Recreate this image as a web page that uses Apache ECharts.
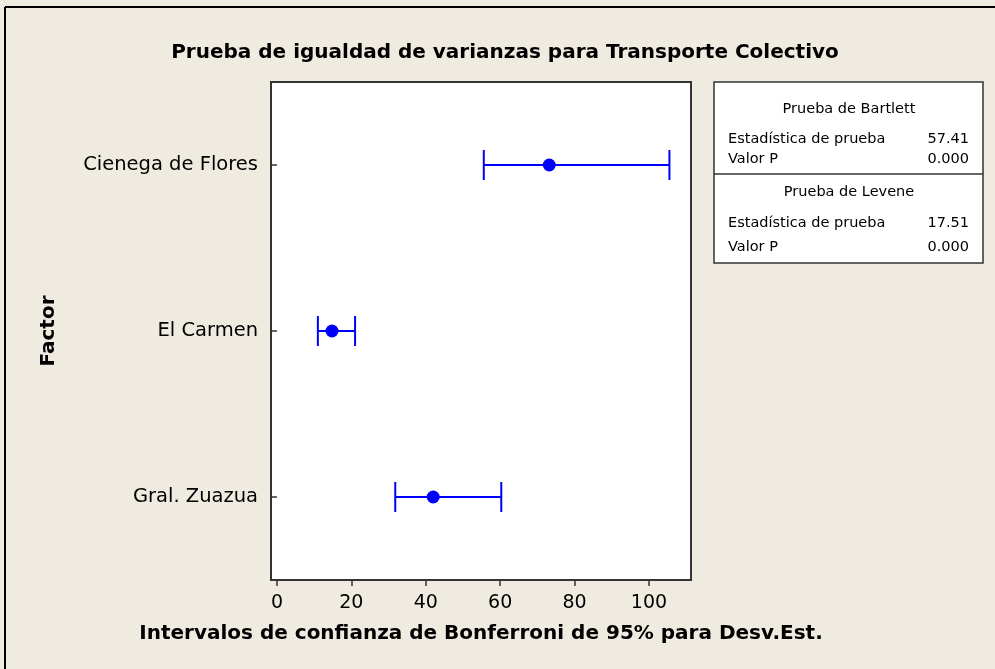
<!DOCTYPE html>
<html>
<head>
<meta charset="utf-8">
<script src="https://cdn.jsdelivr.net/npm/echarts@6/dist/echarts.min.js"></script>
<style>
  html, body { margin: 0; padding: 0; background: #efebe1; }
  #chart { width: 995px; height: 669px; }
</style>
</head>
<body>
<div id="chart"></div>
<script>
// categorias y intervalos de Bonferroni (Desv.Est.)
var factores = ["Cienega de Flores", "El Carmen", "Gral. Zuazua"];
var desvEst = [73.2, 14.8, 42.0];
var limInf = [55.6, 11.0, 31.8];
var limSup = [105.5, 21.0, 60.3];
var ticksX = [0, 20, 40, 60, 80, 100];

// tabla de pruebas
var bartlett = { estadistica: "57.41", p: "0.000" };
var levene = { estadistica: "17.51", p: "0.000" };

var fuente = "DejaVu Sans";
var chart = echarts.init(document.getElementById("chart"));

var intervalos = [];
for (var i = 0; i < factores.length; i++) {
  intervalos.push([limInf[i], limSup[i], i]);
}

var tx = 714, ty = 82, tw = 269, th = 181;
var txt = function (x, y, s, align) {
  return {
    type: "text", x: x, y: y,
    style: { text: s, fill: "#000", font: "14.5px " + fuente, align: align || "left", verticalAlign: "middle" }
  };
};

chart.setOption({
  backgroundColor: "#efebe1",
  animation: false,
  title: {
    text: "Prueba de igualdad de varianzas para Transporte Colectivo",
    left: 500, top: 38, textAlign: "center",
    textStyle: { fontFamily: fuente, fontWeight: "bold", fontSize: 20, color: "#000" }
  },
  grid: {
    left: 271, top: 82, width: 420, height: 498,
    show: true, backgroundColor: "#fff", borderColor: "#333", borderWidth: 2
  },
  xAxis: {
    type: "value", min: -1.6, max: 111.3,
    name: "Intervalos de confianza de Bonferroni de 95% para Desv.Est.",
    nameLocation: "middle", nameGap: 44,
    nameTextStyle: { fontFamily: fuente, fontWeight: "bold", fontSize: 20, color: "#000" },
    splitLine: { show: false },
    axisLine: { show: false },
    axisTick: { show: true, length: 6, customValues: ticksX, lineStyle: { color: "#333", width: 1.5 } },
    axisLabel: { customValues: ticksX, fontFamily: fuente, fontSize: 19, color: "#000", margin: 14 }
  },
  yAxis: {
    type: "category", data: factores, inverse: true,
    name: "Factor", nameLocation: "middle", nameGap: 212,
    nameTextStyle: { fontFamily: fuente, fontWeight: "bold", fontSize: 20, color: "#000" },
    axisLine: { show: false },
    axisTick: { show: true, alignWithLabel: true, length: 6, lineStyle: { color: "#333", width: 1.5 } },
    axisLabel: { fontFamily: fuente, fontSize: 19.5, color: "#000", margin: 13 },
    splitLine: { show: false }
  },
  series: [
    {
      type: "custom",
      data: intervalos,
      encode: { x: [0, 1], y: 2 },
      renderItem: function (params, api) {
        var a = api.coord([api.value(0), api.value(2)]);
        var b = api.coord([api.value(1), api.value(2)]);
        var h = 15;
        var st = { stroke: "#0000ff", lineWidth: 2 };
        return {
          type: "group",
          children: [
            { type: "line", shape: { x1: a[0], y1: a[1], x2: b[0], y2: b[1] }, style: st },
            { type: "line", shape: { x1: a[0], y1: a[1] - h, x2: a[0], y2: a[1] + h }, style: st },
            { type: "line", shape: { x1: b[0], y1: b[1] - h, x2: b[0], y2: b[1] + h }, style: st }
          ]
        };
      }
    },
    {
      type: "scatter",
      data: desvEst.map(function (v, i) { return [v, i]; }),
      symbol: "circle", symbolSize: 13,
      itemStyle: { color: "#0000ff", opacity: 1 }
    }
  ],
  graphic: [
    { type: "line", shape: { x1: 5, y1: 7, x2: 995, y2: 7 }, style: { stroke: "#000", lineWidth: 2 } },
    { type: "line", shape: { x1: 5, y1: 7, x2: 5, y2: 669 }, style: { stroke: "#000", lineWidth: 2 } },
    { type: "rect", shape: { x: tx, y: ty, width: tw, height: th }, style: { fill: "#fff", stroke: "#333", lineWidth: 1.5 } },
    { type: "line", shape: { x1: tx, y1: 174, x2: tx + tw, y2: 174 }, style: { stroke: "#333", lineWidth: 1.5 } },
    txt(849, 109, "Prueba de Bartlett", "center"),
    txt(728, 139, "Estadística de prueba"),
    txt(969, 139, bartlett.estadistica, "right"),
    txt(728, 159, "Valor P"),
    txt(969, 159, bartlett.p, "right"),
    txt(849, 192, "Prueba de Levene", "center"),
    txt(728, 223, "Estadística de prueba"),
    txt(969, 223, levene.estadistica, "right"),
    txt(728, 247, "Valor P"),
    txt(969, 247, levene.p, "right")
  ]
});
</script>
</body>
</html>
